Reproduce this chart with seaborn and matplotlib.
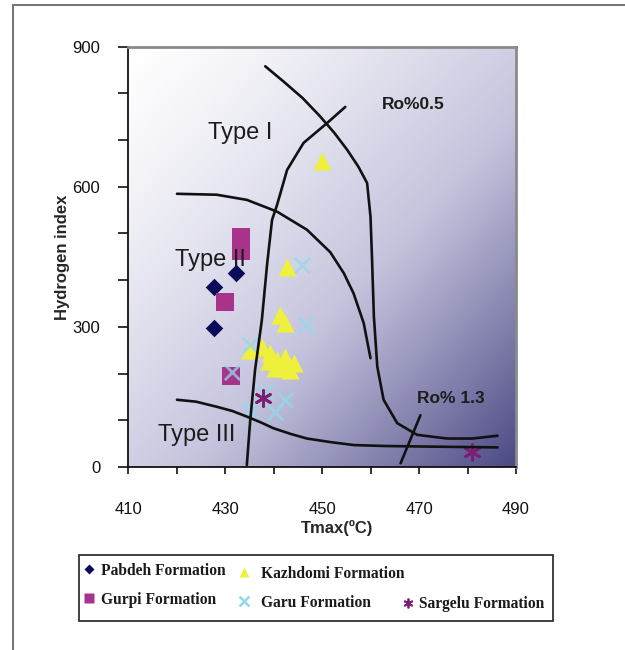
import numpy as np
import pandas as pd
import matplotlib
matplotlib.use("Agg")
import matplotlib.pyplot as plt
from matplotlib.lines import Line2D
from matplotlib.patches import Rectangle
from matplotlib.colors import LinearSegmentedColormap
import seaborn as sns

formations = ["Pabdeh", "Gurpi", "Kazhdomi", "Garu", "Sargelu"]

pabdeh_tmax = [432.3, 427.8, 427.8]
pabdeh_hi = [415, 386, 297]

gurpi_tmax = [433.2, 433.2, 430.0, 431.2]
gurpi_hi = [492, 463, 354, 195]

kazhdomi_tmax = [450.0, 442.8, 441.3, 442.4, 435.2, 437.6, 439.3, 440.7,
                 442.4, 444.2, 439.0, 440.4, 442.1, 443.5]
kazhdomi_hi = [655, 429, 326, 308, 251, 258, 244, 229, 236, 222, 226, 211,
               211, 208]

garu_tmax = [445.9, 446.8, 435.2, 438.3, 442.4, 440.4, 435.2, 431.5]
garu_hi = [433, 305, 261, 161, 144, 118, 122, 204]

sargelu_tmax = [437.8, 481.0]
sargelu_hi = [147, 33]

# kerogen type boundaries and maturity lines
type1_tmax = [438.3, 442, 446, 449.5, 452.5, 455.2, 457.5, 459.3, 460.0,
              460.3, 460.7, 461.4, 462.7, 465.5, 469.6, 475.8, 481, 486.2]
type1_hi = [858, 826, 790, 752, 716, 679, 643, 608, 536, 450, 322, 215, 144,
            94, 69, 61, 61, 67]

type2_tmax = [420.1, 428.3, 434.5, 440.7, 446.9, 451.7, 454.5, 456.5, 458.6,
              460.0]
type2_hi = [585, 583, 572, 547, 508, 460, 415, 372, 308, 233]

type3_tmax = [420.1, 424, 428.3, 431.5, 434.5, 437.5, 440, 443.5, 446.9, 452,
              456.6, 463, 470.3, 478, 486.2]
type3_hi = [144, 140, 129, 120, 108, 95, 83, 71, 61, 53, 47, 45, 44, 43, 42]

ro05_tmax = [434.5, 435.2, 436.2, 437.6, 438.7, 439.7, 440.7, 442.8, 446.2,
             451.0, 454.8]
ro05_hi = [4, 100, 208, 315, 436, 529, 560, 636, 694, 736, 771]

ro13_tmax = [466.2, 470.3]
ro13_hi = [8, 111]

x_ticks = [410, 420, 430, 440, 450, 460, 470, 480, 490]
x_ticklabels = ["410", "", "430", "", "450", "", "470", "", "490"]
y_ticks = [0, 100, 200, 300, 400, 500, 600, 700, 800, 900]
y_ticklabels = ["0", "", "", "300", "", "", "600", "", "", "900"]

colors = {"Pabdeh": "#0b0b5c", "Gurpi": "#a8338a", "Kazhdomi": "#eef03c",
          "Garu": "#93d9ea", "Sargelu": "#7a1f72"}
markers = {"Pabdeh": "D", "Gurpi": "s", "Kazhdomi": "^", "Garu": "x",
           "Sargelu": (6, 2, 0)}
sizes = {"Pabdeh": 80, "Gurpi": 165, "Kazhdomi": 170, "Garu": 120,
         "Sargelu": 130}

df = pd.concat([
    pd.DataFrame({"Tmax": pabdeh_tmax, "HI": pabdeh_hi, "Formation": "Pabdeh"}),
    pd.DataFrame({"Tmax": gurpi_tmax, "HI": gurpi_hi, "Formation": "Gurpi"}),
    pd.DataFrame({"Tmax": kazhdomi_tmax, "HI": kazhdomi_hi, "Formation": "Kazhdomi"}),
    pd.DataFrame({"Tmax": garu_tmax, "HI": garu_hi, "Formation": "Garu"}),
    pd.DataFrame({"Tmax": sargelu_tmax, "HI": sargelu_hi, "Formation": "Sargelu"}),
])

sns.set_style("ticks")
plt.rcParams["font.family"] = ["Liberation Sans", "DejaVu Sans"]

fig = plt.figure(figsize=(6.25, 6.5), dpi=100)
ax = fig.add_axes([0.2048, 0.2815, 0.6208, 0.6467])

# shaded background, white top-left to dark slate bottom-right
u, v = np.meshgrid(np.linspace(0, 1, 300), np.linspace(0, 1, 300))
shade = ((u + v) / 2) ** 1.3
bg = LinearSegmentedColormap.from_list("bg", ["#ffffff", "#c4c3dd", "#4b4984"])
ax.imshow(shade, cmap=bg, extent=[410, 490, 0, 900], origin="upper",
          aspect="auto", zorder=0, vmin=0, vmax=1)

for f in formations:
    sub = df[df["Formation"] == f]
    filled = f in ("Pabdeh", "Gurpi", "Kazhdomi")
    sns.scatterplot(data=sub, x="Tmax", y="HI", ax=ax, color=colors[f],
                    marker=markers[f], s=sizes[f],
                    linewidth=0 if filled else 2.0,
                    alpha=0.75 if f == "Garu" else 1, zorder=2, legend=False)

for xs, ys in [(type1_tmax, type1_hi), (type2_tmax, type2_hi),
               (type3_tmax, type3_hi), (ro05_tmax, ro05_hi),
               (ro13_tmax, ro13_hi)]:
    sns.lineplot(x=xs, y=ys, ax=ax, sort=False, estimator=None,
                 color="#111111", linewidth=1.9, zorder=3)

txt = "#1c1c1c"
ax.text(433.1, 715, "Type I", fontsize=17, color=txt, ha="center", va="center", zorder=4)
ax.text(426.9, 444, "Type II", fontsize=17, color=txt, ha="center", va="center", zorder=4)
ax.text(424.2, 69, "Type III", fontsize=17, color=txt, ha="center", va="center", zorder=4)
ax.text(468.8, 776, "Ro%0.5", fontsize=12.5, fontweight="bold", color=txt,
        ha="center", va="center", zorder=4)
ax.text(476.5, 147, "Ro% 1.3", fontsize=12.5, fontweight="bold", color=txt,
        ha="center", va="center", zorder=4)

ax.set_xlim(410, 490)
ax.set_ylim(0, 900)
ax.set_xticks(x_ticks)
ax.set_xticklabels(x_ticklabels)
ax.set_yticks(y_ticks)
ax.set_yticklabels(y_ticklabels)
ax.tick_params(axis="x", direction="out", length=5, width=1.2, pad=20,
               labelsize=12, colors="#111111")
ax.tick_params(axis="y", direction="out", length=7, width=1.2, pad=13,
               labelsize=12, colors="#111111")
ax.set_xlabel("Tmax(ºC)", fontsize=12, fontweight="bold", labelpad=0)
ax.xaxis.set_label_coords(0.54, -0.125)
ax.set_ylabel("Hydrogen index", fontsize=12, fontweight="bold", labelpad=2)
for side in ("left", "bottom"):
    ax.spines[side].set_color("#111111")
    ax.spines[side].set_linewidth(1.3)
for side in ("top", "right"):
    ax.spines[side].set_color("#8a8a8a")
    ax.spines[side].set_linewidth(2)

# legend: three separate columns inside one box
leg_font = {"family": "Liberation Serif", "weight": "bold", "size": 11.2}
col1 = [Line2D([], [], ls="", marker="D", ms=5, color=colors["Pabdeh"], mec="none"),
        Line2D([], [], ls="", marker="s", ms=7, color=colors["Gurpi"], mec="none")]
col2 = [Line2D([], [], ls="", marker="^", ms=7, color=colors["Kazhdomi"], mec="none"),
        Line2D([], [], ls="", marker="x", ms=7, mew=1.8, color=colors["Garu"])]
col3 = [Line2D([], [], ls="", marker=(6, 2, 0), ms=7, mew=1.3, color=colors["Sargelu"])]
columns = [
    (col1, ["Pabdeh Formation", "Gurpi Formation"], 0.132, 0.1345, 0.4),
    (col2, ["Kazhdomi Formation", "Garu Formation"], 0.380, 0.1300, 0.7),
    (col3, ["Sargelu Formation"], 0.643, 0.0830, 0.3),
]
for hs, labs, x0, y0, tpad in columns:
    lg = fig.legend(hs, labs, loc="upper left", bbox_to_anchor=(x0, y0),
                    frameon=False, handlelength=0.8, handletextpad=tpad,
                    borderaxespad=0, borderpad=0, labelspacing=0.85,
                    prop=leg_font)
    for t in lg.get_texts():
        t.set_color("#1a1a1a")

fig.patches.append(Rectangle((0.127, 0.0446), 0.757, 0.1015,
                             transform=fig.transFigure, fill=False,
                             edgecolor="#333333", linewidth=1.3))

# outer picture frame (left and top edges visible)
fig.patches.append(Rectangle((0.0203, -0.1), 1.2, 1.0923, transform=fig.transFigure,
                             fill=False, edgecolor="#777777", linewidth=1.5))

fig.savefig("out.png", dpi=100)
